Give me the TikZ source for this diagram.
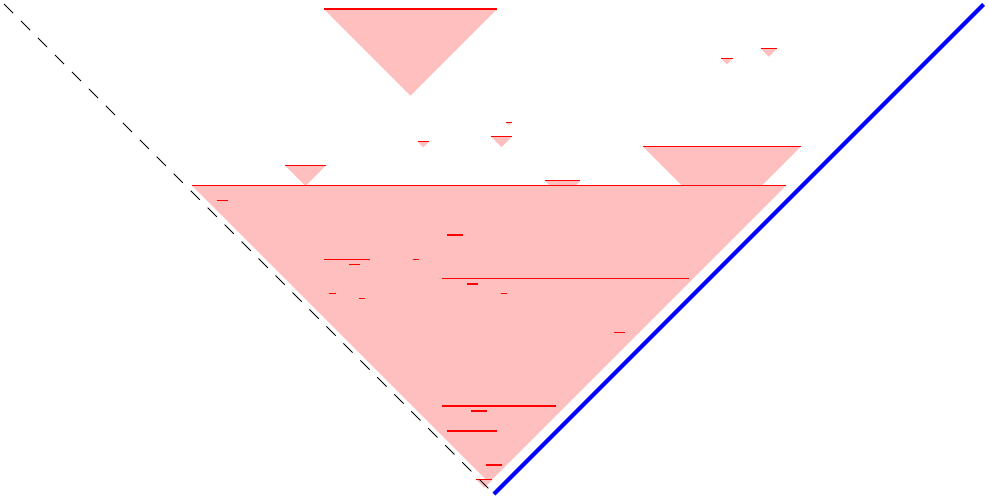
\documentclass[tikz,border=0pt]{standalone}
\begin{document}
\begin{tikzpicture}[x=1pt,y=-1pt,
  conefill/.style={fill=red!25},
  seg/.style={draw=red,line width=1.4pt},
  nullline/.style={draw=black,line width=0.9pt,dash pattern=on 13pt off 11pt},
  bluewall/.style={draw=blue,line width=4pt}]
\useasboundingbox (0,0) rectangle (989,499);
% segments: x1/x2/y
\def\seglist{324/497/9, 721/732.5/58.5, 760.5/777/48.5, 417.5/429/141.7, 506/511.7/122.3,
  491/512/136.7, 545/580.3/180.7, 643/800.7/146.7, 285.3/325.7/165.7, 192/786/185.5,
  216.7/228/200.7, 447/463/235, 324.3/370/259.3, 349/360/264.3, 412.7/419/259.3,
  442.3/688.7/278.7, 466.7/477.7/284, 501/507/293.7, 329.3/335.7/293.7, 359/365/298.7,
  613.7/625/332.7, 442.3/556/406, 471.3/487.3/411, 447/497/431, 486/502/465, 476.3/492.3/479.7}
\foreach \a/\b/\y in \seglist {
  \fill[conefill] (\a,\y) -- (\b,\y) -- ({(\a+\b)/2},{\y+(\b-\a)/2}) -- cycle;
}
\foreach \a/\b/\y in \seglist {
  \draw[seg] (\a,\y) -- (\b,\y);
}
\coordinate (d1) at (4,4);
\coordinate (d2) at (490,490);
\coordinate (b1) at (494,494);
\coordinate (b2) at (983.5,4.5);
\draw[nullline] (d1) -- (d2);
\draw[bluewall] (b1) -- (b2);
\end{tikzpicture}
\end{document}
